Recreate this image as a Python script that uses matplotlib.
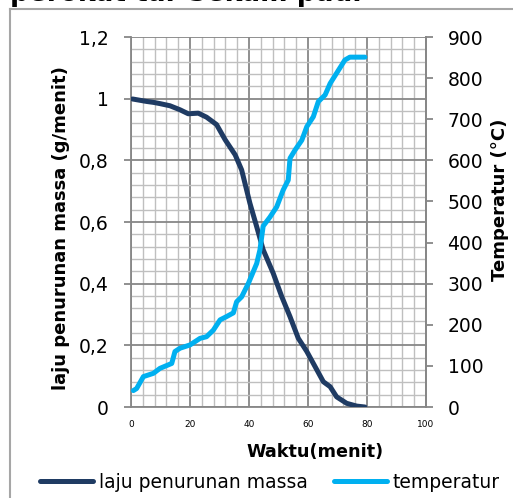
import numpy as np
import matplotlib.pyplot as plt
from matplotlib.lines import Line2D
from matplotlib.ticker import MultipleLocator

plt.rcParams['font.family'] = ['DejaVu Sans']

# data
waktu_massa = [0.5, 5.3, 7.6, 9.8, 13.2, 16.6, 19.4, 22.8, 25.6, 29.0, 31.9, 35.3, 37.5,
               40.3, 42.6, 44.8, 48.2, 51.1, 53.9, 56.7, 59.6, 62.4, 65.2, 67.5, 69.7,
               73.1, 76.5, 79.3]
laju_massa = [0.999, 0.991, 0.988, 0.984, 0.977, 0.964, 0.951, 0.953, 0.940, 0.916, 0.867,
              0.818, 0.769, 0.661, 0.585, 0.51, 0.434, 0.358, 0.293, 0.223, 0.18, 0.131,
              0.082, 0.066, 0.033, 0.012, 0.003, 0.0]

waktu_temp = [0.8, 1.9, 4.2, 7.6, 9.8, 13.8, 14.9, 16.6, 20.0, 23.4, 25.6, 27.9, 30.2,
              32.4, 34.7, 35.8, 37.5, 39.8, 42.6, 43.7, 44.8, 47.1, 49.4, 51.6, 53.3,
              53.9, 55.6, 57.9, 59.6, 61.8, 63.5, 65.8, 67.5, 69.7, 72.5, 74.2, 79.3]
temperatur = [40, 45, 74, 82, 94, 106, 135, 143, 151, 167, 171, 187, 212, 220, 229, 256,
              268, 301, 349, 382, 440, 462, 487, 528, 552, 605, 625, 649, 682, 706, 743,
              759, 787, 812, 844, 851, 851]

y_ticks = [0, 0.2, 0.4, 0.6, 0.8, 1.0, 1.2]
y_labels = ['0', '0,2', '0,4', '0,6', '0,8', '1', '1,2']
x_ticks = [0, 20, 40, 60, 80, 100]
t_ticks = [0, 100, 200, 300, 400, 500, 600, 700, 800, 900]

c_massa = '#1F3B63'
c_temp = '#00B0F0'
abu = '#878787'

fig = plt.figure(figsize=(5.13, 4.98), dpi=100)
ax = fig.add_axes([0.2554, 0.1827, 0.575, 0.743])

ax.set_xlim(0, 100)
ax.set_ylim(0, 1.2)
ax.set_xticks(x_ticks)
ax.set_yticks(y_ticks)
ax.set_yticklabels(y_labels)
ax.xaxis.set_minor_locator(MultipleLocator(4))
ax.yaxis.set_minor_locator(MultipleLocator(0.04))
ax.grid(which='minor', color='#BFBFBF', lw=1.0, zorder=0)
ax.grid(which='major', color=abu, lw=1.3, zorder=0)
ax.set_axisbelow(True)
ax.tick_params(axis='y', which='major', direction='out', length=5, width=1.3, color=abu,
               labelsize=13.5, pad=11)
ax.tick_params(axis='x', which='major', length=0, labelsize=6.5, pad=9)
ax.tick_params(which='minor', length=0)
for s in ax.spines.values():
    s.set_color(abu)
    s.set_linewidth(1.3)
ax.spines['top'].set_visible(False)

ax2 = ax.twinx()
ax2.set_ylim(0, 900)
ax2.set_yticks(t_ticks)
ax2.tick_params(axis='y', direction='out', length=5, width=1.3, color=abu,
                labelsize=13.5, pad=10.5)
for s in ax2.spines.values():
    s.set_visible(False)
ax2.spines['right'].set_visible(True)
ax2.spines['right'].set_color(abu)
ax2.spines['right'].set_linewidth(1.3)

ax.plot(waktu_massa, laju_massa, color=c_massa, lw=3.6, solid_capstyle='round',
        solid_joinstyle='round', zorder=3)
ax2.plot(waktu_temp, temperatur, color=c_temp, lw=3.6, solid_capstyle='round',
         solid_joinstyle='round', zorder=3)

fig.text(61 / 513, 1 - 228 / 498, 'laju penurunan massa (g/menit)', rotation=90,
         ha='center', va='center', fontsize=13, fontweight='bold')
fig.text(500 / 513, 1 - 200 / 498, 'Temperatur (°C)', rotation=90,
         ha='center', va='center', fontsize=13, fontweight='bold')
fig.text(315 / 513, 1 - 452 / 498, 'Waktu(menit)', ha='center', va='center',
         fontsize=12.7, fontweight='bold')

# judul yang terpotong di atas
fig.text(10 / 513, 1 - 1 / 498, 'perokat tar Sekam padi', ha='left', va='baseline',
         fontsize=19, fontweight='bold')

# bingkai grafik
fig.add_artist(Line2D([10 / 513, 10 / 513], [0, 1 - 9 / 498], color='#A6A6A6', lw=1.5,
                      transform=fig.transFigure))
fig.add_artist(Line2D([10 / 513, 1], [1 - 9 / 498, 1 - 9 / 498], color='#A6A6A6', lw=1.5,
                      transform=fig.transFigure))

h1 = Line2D([], [], color=c_massa, lw=3.6, solid_capstyle='round')
h2 = Line2D([], [], color=c_temp, lw=3.6, solid_capstyle='round')
fig.legend([h1, h2], ['laju penurunan massa', 'temperatur'], loc='center',
           bbox_to_anchor=(270 / 513, 1 - 482 / 498), ncol=2, frameon=False,
           fontsize=13.5, handlelength=2.83, handletextpad=0.32, columnspacing=1.39,
           borderpad=0, borderaxespad=0)

fig.savefig('out.png', dpi=100)
